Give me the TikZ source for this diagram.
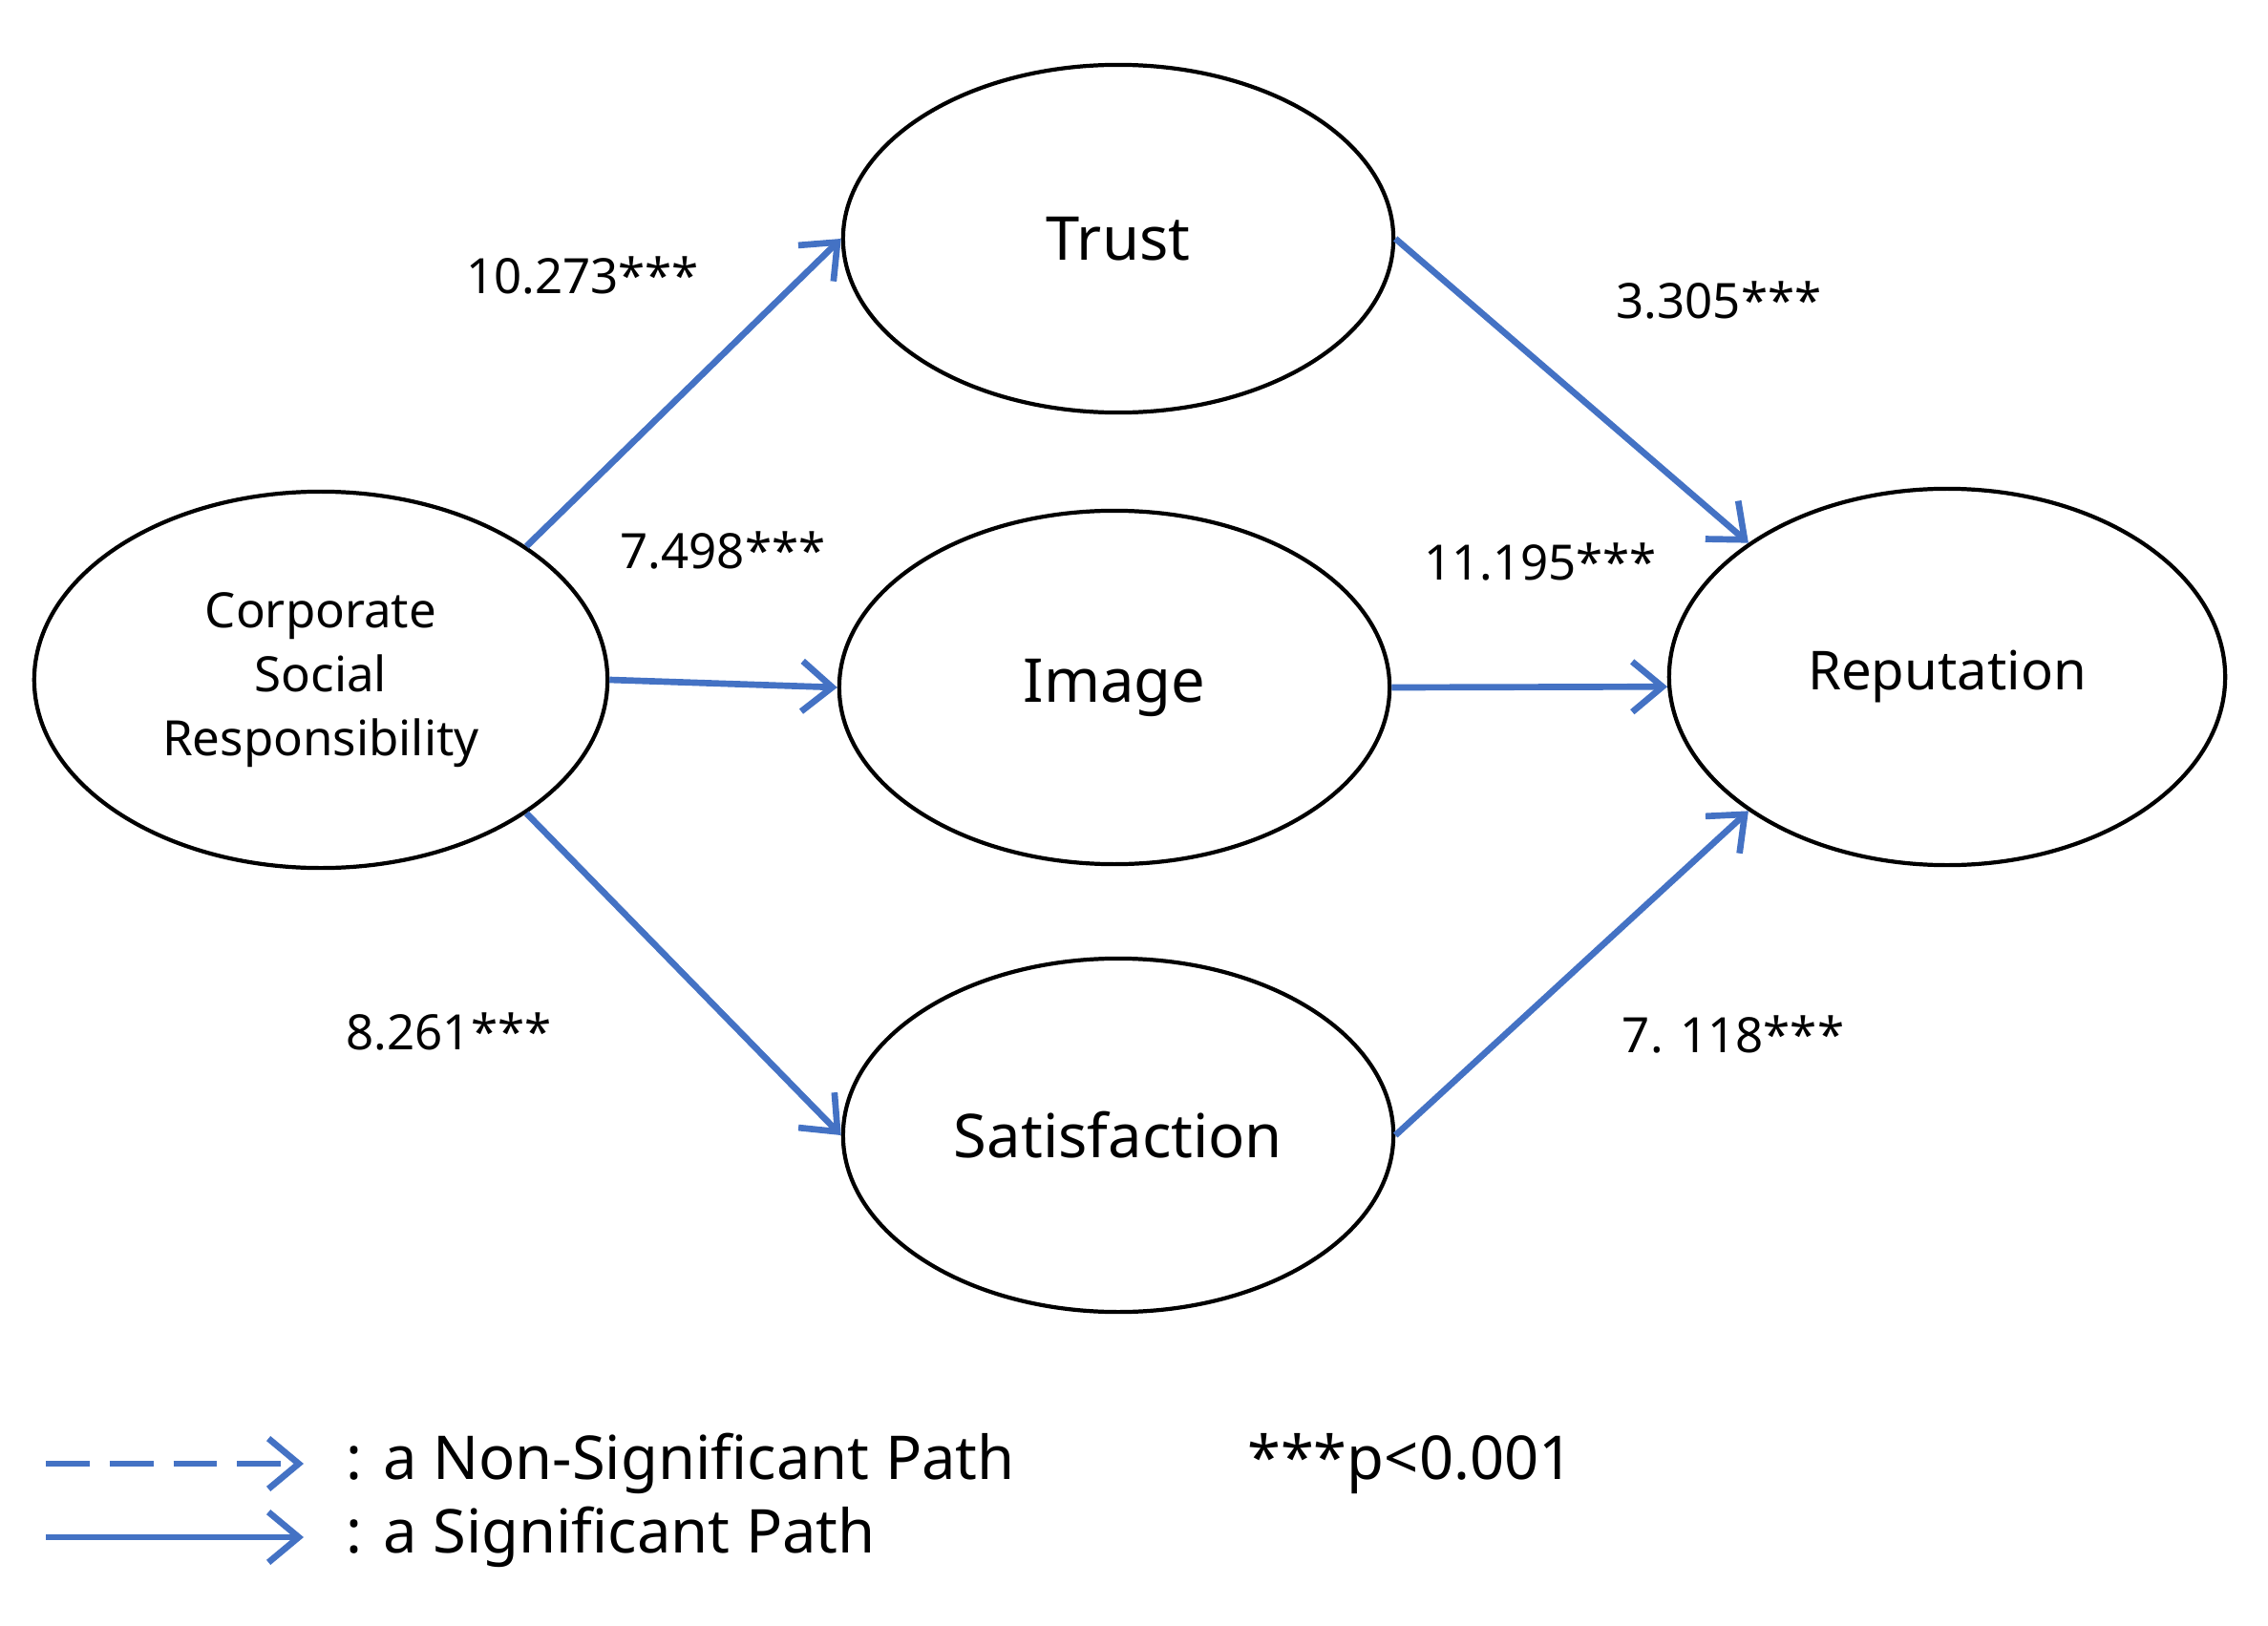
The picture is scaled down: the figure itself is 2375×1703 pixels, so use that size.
\documentclass[tikz,border=0pt]{standalone}
\usepackage{fontspec}
\setmainfont{Noto Sans}
\usetikzlibrary{shapes.geometric,arrows.meta}
\definecolor{arr}{RGB}{68,114,196}
\begin{document}
\begin{tikzpicture}[x=0.01cm,y=-0.01cm,
  ell/.style={ellipse,draw,line width=1.2pt,inner sep=0pt},
  path/.style={draw=arr,line width=1.9pt,-{Straight Barb[length=9pt,width=15pt,line width=1.9pt]}},
  lab/.style={font=\fontsize{14.5}{18}\selectfont}]
\useasboundingbox (0,0) rectangle (2375,1703);
\node[ell,minimum width=6cm,minimum height=3.94cm,align=center,font=\fontsize{14.5}{19}\selectfont] (csr) at (336,712) {Corporate\\Social\\Responsibility};
\node[ell,minimum width=5.76cm,minimum height=3.64cm,font=\fontsize{18}{22}\selectfont] (trust) at (1171,250) {Trust};
\node[ell,minimum width=5.76cm,minimum height=3.7cm,font=\fontsize{18}{22}\selectfont] (image) at (1167,720) {Image};
\node[ell,minimum width=5.76cm,minimum height=3.7cm,font=\fontsize{18}{22}\selectfont] (sat) at (1171,1189) {Satisfaction};
\node[ell,minimum width=5.82cm,minimum height=3.94cm,font=\fontsize{16}{20}\selectfont] (rep) at (2039,709) {Reputation};
\draw[path] (csr.33) -- (trust.180);
\draw[path] (csr.0) -- (image.180);
\draw[path] (csr.-33) -- (sat.180);
\draw[path] (trust.0) -- (rep.146);
\draw[path] (image.0) -- (rep.182);
\draw[path] (sat.0) -- (rep.214);
\node[lab] (l1) at (610,288) {10.273***};
\node[lab] (l2) at (757,576) {7.498***};
\node[lab] (l3) at (470,1080) {8.261***};
\node[lab] (l4) at (1800,314) {3.305***};
\node[lab] (l5) at (1613,588) {11.195***};
\node[lab] (l6) at (1815,1083) {7. 118***};
\coordinate (d1) at (48,1533); \coordinate (d2) at (318,1533);
\coordinate (s1) at (48,1610); \coordinate (s2) at (318,1610);
\draw[path,dash pattern=on 13pt off 6pt] (d1) -- (d2);
\draw[path] (s1) -- (s2);
\node[anchor=west,font=\fontsize{18}{22}\selectfont] (t1) at (350,1533) {: a Non-Significant Path};
\node[anchor=west,font=\fontsize{18}{22}\selectfont] (t2) at (350,1610) {: a Significant Path};
\node[font=\fontsize{18}{22}\selectfont] (t3) at (1477,1533) {***p<0.001};
\end{tikzpicture}
\end{document}
